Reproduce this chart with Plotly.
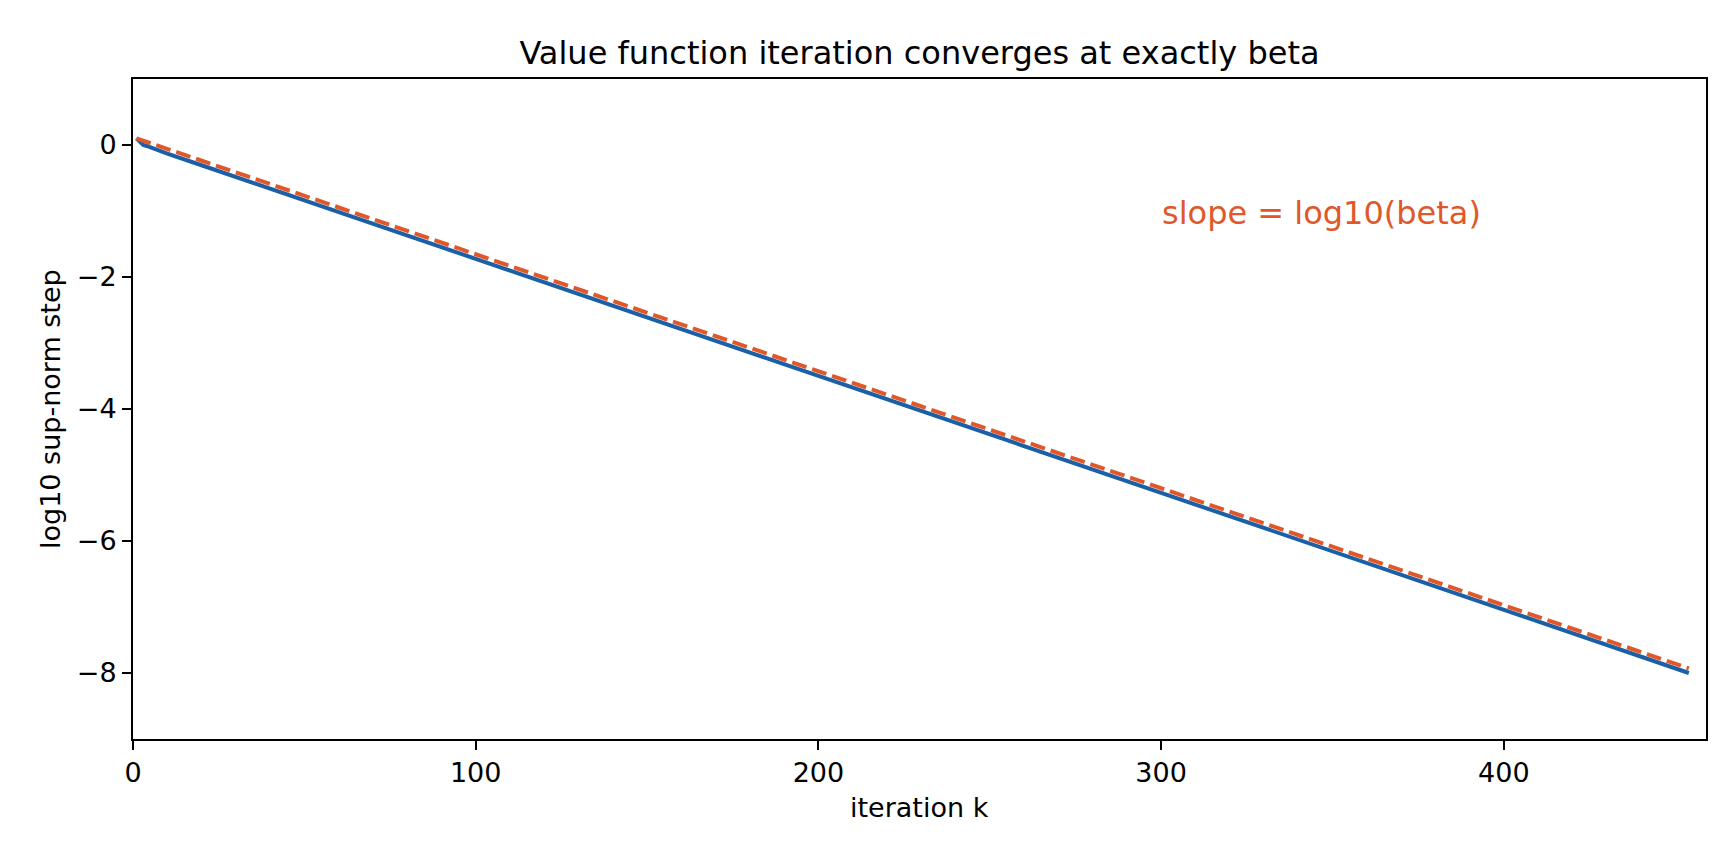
import plotly.graph_objects as go

# data
k_blue = [1, 2, 3, 4, 5, 6, 8, 10, 20, 50, 100, 200, 300, 400, 454]
step_blue = [0.10, 0.04, 0.00, -0.015, -0.035, -0.053, -0.09, -0.13, -0.307,
             -0.839, -1.725, -3.498, -5.271, -7.044, -8.00]
k_ref = [1, 454]
ref_line = [0.10, -7.93]

x_ticks = [0, 100, 200, 300, 400]
y_ticks = [-8, -6, -4, -2, 0]

BLUE = "#1b5fa7"
ORANGE = "#e0582a"
FONT = "DejaVu Sans"

fig = go.Figure()
fig.add_trace(go.Scatter(x=k_blue, y=step_blue, mode="lines",
                         line=dict(color=BLUE, width=4), showlegend=False))
fig.add_trace(go.Scatter(x=k_ref, y=ref_line, mode="lines",
                         line=dict(color=ORANGE, width=4, dash="15px,6px"),
                         showlegend=False))

axis_common = dict(showline=True, linecolor="black", linewidth=2, mirror=True,
                   ticks="outside", ticklen=9, tickwidth=2, tickcolor="black",
                   showgrid=False, zeroline=False,
                   tickfont=dict(family=FONT, size=27, color="black"))

fig.update_xaxes(range=[0, 459], tickvals=x_ticks, **axis_common)
fig.update_yaxes(range=[-9, 1], tickvals=y_ticks, **axis_common)

fig.add_annotation(text="slope = log10(beta)", x=300, y=-1.03, xref="x", yref="y",
                   xanchor="left", yanchor="middle", showarrow=False, borderpad=0,
                   font=dict(family=FONT, size=32, color=ORANGE))
fig.add_annotation(text="iteration k", x=0.5, y=0, xref="paper", yref="paper",
                   yshift=-68, xanchor="center", yanchor="middle", showarrow=False,
                   font=dict(family=FONT, size=27, color="black"))
fig.add_annotation(text="log10 sup-norm step", x=0, y=0.5, xref="paper", yref="paper",
                   xshift=-83, xanchor="center", yanchor="middle", textangle=-90,
                   showarrow=False, font=dict(family=FONT, size=27, color="black"))

fig.update_layout(
    width=1728, height=844,
    margin=dict(l=125, r=30, t=71, b=113),
    paper_bgcolor="white", plot_bgcolor="white",
    title=dict(text="Value function iteration converges at exactly beta",
               x=(125 + 1698) / 2 / 1728, xanchor="center",
               y=1 - 45 / 844, yanchor="middle", yref="container",
               font=dict(family=FONT, size=32, color="black")),
)

fig.write_html("out.html")
